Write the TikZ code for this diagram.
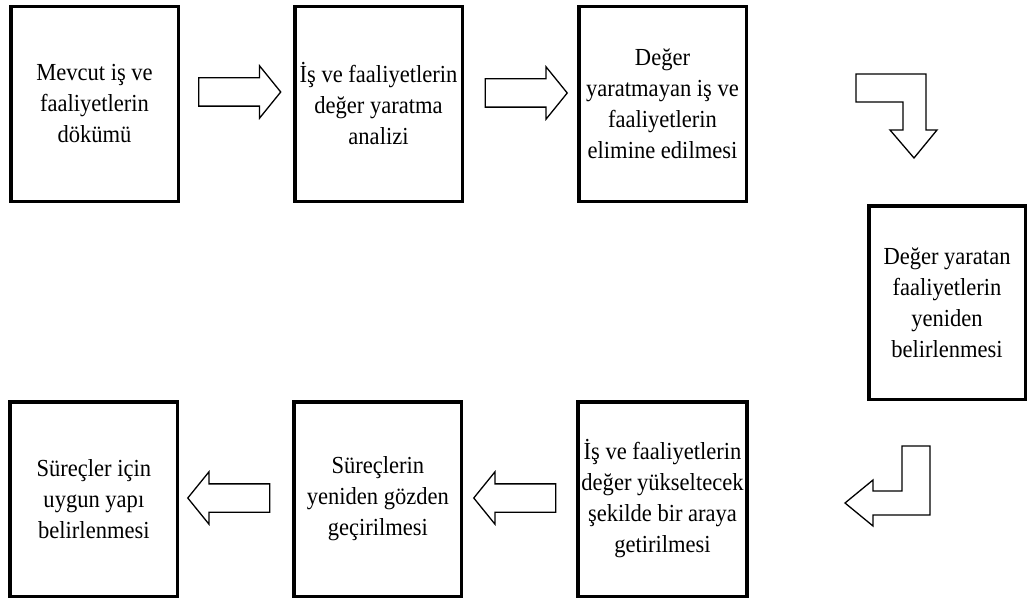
\documentclass[tikz,border=0pt]{standalone}
\usepackage{fontspec}
\setmainfont{Liberation Serif}[FakeStretch=0.92]
\usetikzlibrary{positioning,shapes.arrows}

\begin{document}
\begin{tikzpicture}[x=1pt, y=-1pt, node distance=113pt,
  main node/.style={rectangle, draw, line width=3.5pt, minimum width=167.5pt, minimum height=194.5pt, align=center, font=\fontsize{24.5}{31}\selectfont},
  block arrow/.style={single arrow, draw, line width=1.3pt, minimum height=82pt, minimum width=52pt, single arrow head extend=12pt, single arrow tip angle=102, inner xsep=0pt, inner ysep=13.5pt},
  bent arrow/.style={draw, line width=1.3pt, line join=miter}]
\useasboundingbox (0,0) rectangle (1031,599);
% top row
\node[main node] (b1) at (94.5,104) {Mevcut iş ve\\faaliyetlerin\\dökümü};
\node[main node] (b2) [right=of b1] {İş ve faaliyetlerin\\değer yaratma\\analizi};
\node[main node] (b3) [right=of b2] {Değer\\yaratmayan iş ve\\faaliyetlerin\\elimine edilmesi};
% right side
\node[main node, minimum width=156.5pt, minimum height=193.5pt] (b4) at (947,302.5) {Değer yaratan\\faaliyetlerin\\yeniden\\belirlenmesi};
% bottom row
\node[main node] (b5) [below=197pt of b3] {İş ve faaliyetlerin\\değer yükseltecek\\şekilde bir araya\\getirilmesi};
\node[main node] (b6) [left=of b5] {Süreçlerin\\yeniden gözden\\geçirilmesi};
\node[main node] (b7) [left=of b6] {Süreçler için\\uygun yapı\\belirlenmesi};
% arrows
\node[block arrow] (a1) at (234,92) {};
\node[block arrow] (a2) at (520.5,93) {};
\node[block arrow, shape border rotate=180] (a3) at (520.5,498) {};
\node[block arrow, shape border rotate=180] (a4) at (234.5,498) {};
\draw[bent arrow] (856,74) -- (926,74) -- (926,130) -- (937,130) -- (914,158) -- (890,130) -- (903,130) -- (903,102) -- (856,102) -- cycle;
\draw[bent arrow] (902,446) -- (930,446) -- (930,515) -- (873,515) -- (873,526) -- (845,503) -- (873,480) -- (873,491) -- (902,491) -- cycle;
\end{tikzpicture}
\end{document}
